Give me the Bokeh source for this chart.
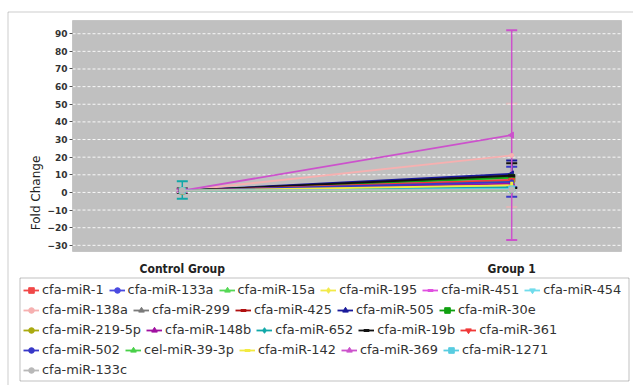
import math
from bokeh.plotting import figure
from bokeh.models import (Range1d, FixedTicker, Whisker, TeeHead, ColumnDataSource,
                          Legend, LegendItem, BoxAnnotation)
from bokeh.embed import file_html
from bokeh.resources import INLINE

# ---------------- data ----------------
groups = ["Control Group", "Group 1"]

series_names = [
    "cfa-miR-1", "cfa-miR-133a", "cfa-miR-15a", "cfa-miR-195", "cfa-miR-451", "cfa-miR-454",
    "cfa-miR-138a", "cfa-miR-299", "cfa-miR-425", "cfa-miR-505", "cfa-miR-30e",
    "cfa-miR-219-5p", "cfa-miR-148b", "cfa-miR-652", "cfa-miR-19b", "cfa-miR-361",
    "cfa-miR-502", "cel-miR-39-3p", "cfa-miR-142", "cfa-miR-369", "cfa-miR-1271",
    "cfa-miR-133c",
]

control_values = [1.0, 1.0, 1.0, 1.0, 1.0, 1.0,
                  1.0, 1.0, 1.0, 1.0, 1.0,
                  1.0, 1.0, 1.4, 1.0, 1.0,
                  1.0, 1.0, 1.0, 1.0, 1.0,
                  1.0]

group1_values = [7.5, 6.0, 8.0, 4.5, 7.0, 2.5,
                 21.0, 6.5, 9.5, 10.5, 8.5,
                 6.5, 5.0, 3.0, 9.5, 7.0,
                 6.0, 1.2, 4.0, 32.5, 2.0,
                 1.5]

control_err = [0, 0, 0, 0, 0, 0,
               1.0, 0, 0, 0, 0,
               0, 0, 5.0, 1.2, 0,
               0, 0, 0, 0.8, 0,
               0]

group1_err = [0, 0, 0, 0, 0, 0,
              29.3, 0, 0, 7.6, 0,
              0, 0, 0, 7.0, 0,
              8.5, 0, 0, 59.5, 0,
              0]

y_ticks = [-30, -20, -10, 0, 10, 20, 30, 40, 50, 60, 70, 80, 90]
y_min, y_max = -33.5, 97.5

legend_row_counts = [6, 5, 5, 5, 1]

# ---------------- styles ----------------
colors = ["#f04848", "#4a4ae0", "#55d855", "#f2ea48", "#e050e0", "#70dcec",
          "#f6b0b0", "#7a7a7a", "#b01010", "#1a1a9a", "#10a010",
          "#aaaa10", "#a010a0", "#10a8a8", "#111111", "#f03838",
          "#3838c8", "#48d048", "#f2ea40", "#cc52cc", "#58cce0",
          "#b8b8b8"]
markers = ["square", "circle", "triangle", "diamond", "dash", "inverted_triangle",
           "circle", "triangle", "dash", "triangle", "square",
           "circle", "triangle", "diamond", "dash", "inverted_triangle",
           "circle", "triangle", "dash", "triangle", "square",
           "circle"]
marker_angles = [0, 0, 0, 0, 0, 0,
                 0, -math.pi / 2, math.pi / 2, math.pi / 2, 0,
                 0, 0, 0, 0, 0,
                 0, -math.pi / 2, math.pi / 2, math.pi / 2, 0,
                 0]
marker_sizes = [6, 6, 6, 7, 7, 6, 4, 6, 7, 6, 6, 6, 6, 7, 7, 6, 4, 6, 7, 6, 6, 6]

FONT = "DejaVu Sans"
TICK_FONT = "DejaVu Sans"
CAT_FONT = "'Liberation Sans Narrow', 'DejaVu Sans Condensed', 'Liberation Sans'"

x_pos = list(range(len(groups)))
x_lo, x_hi = -1 / 3, len(groups) - 1 + 1 / 3

# ---------------- geometry (frame = whole canvas at page 0,0) ----------------
W, H = 633, 385
PL, PR, PT, PB = 72, 621, 20, 251          # plot area in page px
ux = (x_hi - x_lo) / (PR - PL)
uy = (y_max - y_min) / (PB - PT)
xr = Range1d(x_lo - PL * ux, x_hi + (W - PR) * ux)
yr = Range1d(y_min - (H - PB) * uy, y_max + PT * uy)

p = figure(width=W, height=H, x_range=xr, y_range=yr,
           toolbar_location=None, output_backend="svg",
           min_border=0, min_border_left=0, min_border_right=0,
           min_border_top=0, min_border_bottom=0)
p.background_fill_color = "white"
p.border_fill_color = "white"
p.outline_line_color = None
p.grid.visible = False

# plot area background
p.add_layout(BoxAnnotation(left=x_lo, right=x_hi, bottom=y_min, top=y_max,
                           fill_color="#c0c0c0", fill_alpha=1.0,
                           line_color="#8a8a8a", line_width=1, level="underlay"))

# horizontal grid lines at the y ticks
p.segment(x0=[x_lo] * len(y_ticks), x1=[x_hi] * len(y_ticks), y0=y_ticks, y1=y_ticks,
          line_color="white", line_dash="3 2", line_width=1, line_alpha=0.9)

# axes fixed to the plot area edges
p.xaxis.fixed_location = y_min
p.xaxis.ticker = FixedTicker(ticks=x_pos)
p.xaxis.major_label_overrides = {i: g for i, g in zip(x_pos, groups)}
p.xaxis.axis_line_color = None
p.xaxis.major_tick_line_color = None
p.xaxis.minor_tick_line_color = None
p.xaxis.major_label_standoff = 4
p.xaxis.major_label_text_font = CAT_FONT
p.xaxis.major_label_text_font_style = "bold"
p.xaxis.major_label_text_font_size = "12px"
p.xaxis.major_label_text_color = "#222222"

p.yaxis.fixed_location = x_lo
p.yaxis.ticker = FixedTicker(ticks=y_ticks)
p.yaxis.axis_line_color = None
p.yaxis.major_tick_in = 0
p.yaxis.major_tick_out = 3
p.yaxis.major_tick_line_color = "#555555"
p.yaxis.minor_tick_line_color = None
p.yaxis.major_label_standoff = 2
p.yaxis.major_label_text_font = TICK_FONT
p.yaxis.major_label_text_font_style = "bold"
p.yaxis.major_label_text_font_size = "9px"
p.yaxis.major_label_text_color = "#333333"
p.yaxis.axis_label = "Fold Change"
p.yaxis.axis_label_text_font = FONT
p.yaxis.axis_label_text_font_style = "normal"
p.yaxis.axis_label_text_font_size = "12px"
p.yaxis.axis_label_text_color = "#222222"
p.yaxis.axis_label_standoff = 1

# ---------------- series ----------------
line_renderers = []
marker_renderers = []
for i, name in enumerate(series_names):
    ys = [control_values[i], group1_values[i]]
    lr = p.line(x_pos, ys, line_color=colors[i], line_width=1.8)
    lw = 3 if markers[i] == "dash" else 1
    sr = p.scatter(x_pos, ys, marker=markers[i], size=marker_sizes[i], angle=marker_angles[i],
                   fill_color=colors[i], line_color=colors[i], line_width=lw)
    line_renderers.append(lr)
    marker_renderers.append(sr)

for i, name in enumerate(series_names):
    errs = [control_err[i], group1_err[i]]
    vals = [control_values[i], group1_values[i]]
    bx, lo, up = [], [], []
    for xv, v, e in zip(x_pos, vals, errs):
        if e > 0:
            bx.append(xv)
            lo.append(v - e)
            up.append(v + e)
    if not bx:
        continue
    src = ColumnDataSource(dict(base=bx, lower=lo, upper=up))
    alpha = 0.55 if name == "cfa-miR-138a" else 1.0
    w = Whisker(base="base", lower="lower", upper="upper", source=src, dimension="height",
                line_color=colors[i], line_width=1.5, line_alpha=alpha,
                upper_head=TeeHead(size=11, line_color=colors[i], line_width=2, line_alpha=alpha),
                lower_head=TeeHead(size=11, line_color=colors[i], line_width=2, line_alpha=alpha))
    p.add_layout(w)

# ---------------- outer chart border and legend box (screen units, frame-relative) ----------------
def sx(page_x):
    return page_x

def sy(page_y):
    return H - page_y

outer = BoxAnnotation(left=sx(7) + 0.5, right=W + 50, top=sy(11) - 0.5, bottom=-50,
                      left_units="screen", right_units="screen", top_units="screen", bottom_units="screen",
                      fill_alpha=0, line_color="#555555", line_width=1, level="underlay")
p.add_layout(outer)

box = BoxAnnotation(left=sx(19) + 0.5, right=sx(628) + 0.5, top=sy(277) - 0.5, bottom=sy(380) - 0.5,
                    left_units="screen", right_units="screen", top_units="screen", bottom_units="screen",
                    fill_alpha=0, line_color="#333333", line_width=1)
p.add_layout(box)

items = [LegendItem(label=name, renderers=[line_renderers[i], marker_renderers[i]])
         for i, name in enumerate(series_names)]

row_pitch = 20
first_row_page = 289.5
item_h = 15
start = 0
for r, cnt in enumerate(legend_row_counts):
    row_items = items[start:start + cnt]
    start += cnt
    cy = first_row_page + r * row_pitch
    lg = Legend(items=row_items, orientation="horizontal",
                location=(sx(23), sy(cy) - item_h / 2),
                border_line_alpha=0, background_fill_alpha=0,
                padding=0, margin=0, spacing=5,
                glyph_width=16, glyph_height=14, label_standoff=3,
                label_height=14, label_width=10,
                label_text_font=FONT, label_text_font_size="12.9px",
                label_text_color="#333333")
    p.add_layout(lg, "center")

open("out.html", "w").write(file_html(p, INLINE))
